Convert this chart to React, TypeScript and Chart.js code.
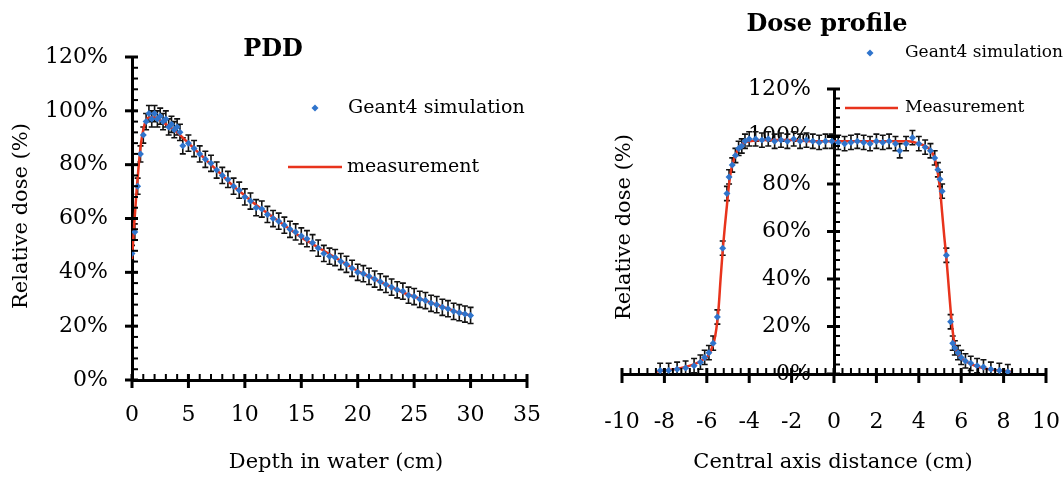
import React, { useEffect, useRef } from 'react';
import { Chart, registerables } from 'chart.js';

Chart.register(...registerables);

const FONT = 'DejaVu Serif';
Chart.defaults.font.family = FONT;
Chart.defaults.color = '#000';

const BLUE = '#2f74cc';
const RED = '#e8331c';

// ---------- PDD data ----------
const pddMeasDepth = [0, 0.2, 0.4, 0.6, 0.8, 1, 1.2, 1.5, 2, 2.5, 3, 3.5, 4, 4.5, 5, 6, 7, 8, 9, 10, 11, 12, 13, 14, 15, 16, 17, 18, 19, 20, 21, 22, 23, 24, 25, 26, 27, 28, 29, 30];
const pddMeasDose = [45, 58, 70, 80, 88, 93, 96, 97.5, 97.5, 96.5, 95, 93.5, 92, 90, 88, 84, 80, 76, 72, 68.5, 65, 62, 59, 56, 53, 50.5, 48, 45.5, 43, 40.5, 38.5, 36.5, 34.5, 32.5, 31, 29.5, 28, 26.5, 25, 24];

const pddSimDepth = [0, 0.25, 0.5, 0.75, 1, 1.25, 1.5, 1.75, 2, 2.25, 2.5, 2.75, 3, 3.25, 3.5, 3.75, 4, 4.25, 4.5,
  5, 5.5, 6, 6.5, 7, 7.5, 8, 8.5, 9, 9.5, 10, 10.5, 11, 11.5, 12, 12.5, 13, 13.5, 14, 14.5, 15, 15.5, 16, 16.5, 17, 17.5,
  18, 18.5, 19, 19.5, 20, 20.5, 21, 21.5, 22, 22.5, 23, 23.5, 24, 24.5, 25, 25.5, 26, 26.5, 27, 27.5, 28, 28.5, 29, 29.5, 30];
const pddSimDose = [47, 55, 72, 84, 91, 96, 99, 97, 99, 97, 98, 96, 97, 94, 95, 93, 94, 92, 87,
  88, 86, 84, 82, 80.5, 78, 76, 74.5, 72, 70.5, 68, 66.5, 64, 63.5, 61.5, 60, 59, 57.5, 56, 55, 53.5, 52.5, 51, 49, 47, 46,
  45.5, 44, 43, 41.5, 40, 39.5, 38.5, 37.5, 36.5, 35.5, 34.5, 33.5, 33, 31.5, 31, 30, 29.5, 28.5, 28, 27, 26.5, 25.5, 25, 24.5, 24];
const pddSimError = 3;

// ---------- Dose profile data ----------
const profMeasPos = [-8.4, -8, -7.5, -7, -6.5, -6.2, -6, -5.8, -5.65, -5.55, -5.45, -5.35, -5.25, -5.15, -5.05, -4.95, -4.85, -4.7, -4.5, -4.3,
  -4, -3, -2, -1, 0, 1, 2, 3, 3.5, 4, 4.4, 4.7, 4.85, 5, 5.1, 5.2, 5.3, 5.4, 5.5, 5.6, 5.7, 5.85, 6.1, 6.4, 6.8, 7.3, 7.8, 8.4];
const profMeasDose = [1, 1.5, 2, 3, 4.5, 6, 7, 10, 14, 19, 27, 40, 52, 62, 71, 80, 86, 91, 95, 97,
  98, 98.5, 98.5, 98, 98, 98, 98, 98, 98, 97, 95.5, 92, 87, 78, 68, 58, 49, 38, 27, 18, 12, 8.5, 6, 4.5, 3, 2, 1.5, 1];

const profSimPos = [-8.2, -7.8, -7.4, -7.0, -6.6, -6.3, -6.1, -5.9, -5.7, -5.5, -5.25, -5.05, -4.95, -4.8, -4.65, -4.5, -4.35, -4.2, -4.0,
  -3.7, -3.4, -3.1, -2.8, -2.5, -2.2, -1.9, -1.6, -1.3, -1.0, -0.7, -0.4, -0.1, 0.2, 0.5, 0.8, 1.1, 1.4, 1.7, 2.0, 2.3, 2.6, 2.9,
  3.1, 3.4, 3.7, 4.0, 4.3, 4.55, 4.75, 4.9, 5.0, 5.1, 5.3, 5.5, 5.6, 5.7, 5.85, 6.0, 6.2, 6.45, 6.75, 7.05, 7.4, 7.8, 8.2];
const profSimDose = [1.5, 1.5, 2, 2.5, 3.5, 5, 7, 9, 13, 24, 53, 76, 83, 88, 92, 95, 96, 98, 99,
  99, 98.5, 99, 98, 98.5, 98, 99, 98, 98.5, 98, 97.5, 98, 98, 97.5, 97, 97.5, 98, 97.5, 97, 98, 97.5, 98, 97,
  94, 97, 99.5, 97, 95.5, 94, 91, 86, 82, 77, 50, 22, 13, 11, 9, 7, 5.5, 4.5, 3.5, 3, 2, 1.5, 1];
const profSimError = 3;

const toPts = (xs: number[], ys: number[]) => xs.map((x, i) => ({ x, y: ys[i] }));

// ---------- plugins ----------
const crossTicks = {
  id: 'crossTicks',
  afterDraw(chart: any, _a: any, o: any) {
    const ctx = chart.ctx;
    const xs = chart.scales.x;
    const ys = chart.scales.y;
    const ay = ys.getPixelForValue(ys.min);
    const ax = xs.getPixelForValue(o.yCross);
    ctx.save();
    ctx.strokeStyle = '#000';
    const nx = Math.round((xs.max - xs.min) / o.xMinor);
    for (let i = 0; i <= nx; i++) {
      const v = xs.min + i * o.xMinor;
      const p = xs.getPixelForValue(v);
      const major = Math.abs(v / o.xMajor - Math.round(v / o.xMajor)) < 1e-6;
      ctx.beginPath();
      if (major) {
        ctx.lineWidth = 3;
        ctx.moveTo(p, ay - 6);
        ctx.lineTo(p, ay + o.majorBelow);
      } else {
        ctx.lineWidth = 2;
        ctx.moveTo(p, ay);
        ctx.lineTo(p, ay - 6);
      }
      ctx.stroke();
    }
    const ny = Math.round((ys.max - ys.min) / o.yMinor);
    for (let i = 0; i <= ny; i++) {
      const v = ys.min + i * o.yMinor;
      const p = ys.getPixelForValue(v);
      const major = Math.abs(v / o.yMajor - Math.round(v / o.yMajor)) < 1e-6;
      ctx.beginPath();
      if (major) {
        ctx.lineWidth = 3;
        ctx.moveTo(ax - 7, p);
        ctx.lineTo(ax + 6, p);
      } else {
        ctx.lineWidth = 2;
        ctx.moveTo(ax, p);
        ctx.lineTo(ax + 6, p);
      }
      ctx.stroke();
    }
    ctx.restore();
  },
};

const errorBars = {
  id: 'errorBars',
  beforeDatasetsDraw(chart: any) {
    const ctx = chart.ctx;
    const ys = chart.scales.y;
    const area = chart.chartArea;
    chart.data.datasets.forEach((ds: any, i: number) => {
      if (!ds.errorY) return;
      const meta = chart.getDatasetMeta(i);
      ctx.save();
      ctx.beginPath();
      ctx.rect(area.left, area.top, area.right - area.left, area.bottom - area.top);
      ctx.clip();
      ctx.strokeStyle = '#111';
      ctx.lineWidth = 1.6;
      const cap = 3;
      meta.data.forEach((pt: any, j: number) => {
        const v = ds.data[j].y;
        const t = ys.getPixelForValue(v + ds.errorY);
        const b = ys.getPixelForValue(v - ds.errorY);
        ctx.beginPath();
        ctx.moveTo(pt.x, t);
        ctx.lineTo(pt.x, b);
        ctx.moveTo(pt.x - cap, t);
        ctx.lineTo(pt.x + cap, t);
        ctx.moveTo(pt.x - cap, b);
        ctx.lineTo(pt.x + cap, b);
        ctx.stroke();
      });
      ctx.restore();
    });
  },
};

const annot = {
  id: 'annot',
  afterDraw(chart: any, _a: any, o: any) {
    const ctx = chart.ctx;
    ctx.save();
    ctx.fillStyle = '#000';
    ctx.textBaseline = 'middle';
    for (const t of o.texts) {
      ctx.font = `${t.bold ? 'bold ' : ''}${t.size}px "${FONT}"`;
      ctx.textAlign = 'center';
      if (t.rotate) {
        ctx.save();
        ctx.translate(t.x, t.y);
        ctx.rotate(-Math.PI / 2);
        ctx.fillText(t.text, 0, 0);
        ctx.restore();
      } else {
        ctx.fillText(t.text, t.x, t.y);
      }
    }
    for (const l of o.legend) {
      const ds = chart.data.datasets[l.dataset];
      if (l.kind === 'point') {
        ctx.fillStyle = BLUE;
        ctx.beginPath();
        ctx.moveTo(l.mx, l.y - 3.5);
        ctx.lineTo(l.mx + 3.5, l.y);
        ctx.lineTo(l.mx, l.y + 3.5);
        ctx.lineTo(l.mx - 3.5, l.y);
        ctx.closePath();
        ctx.fill();
      } else {
        ctx.strokeStyle = RED;
        ctx.lineWidth = 2.5;
        ctx.beginPath();
        ctx.moveTo(l.x1, l.y);
        ctx.lineTo(l.x2, l.y);
        ctx.stroke();
      }
      ctx.fillStyle = '#000';
      ctx.font = `${l.size}px "${FONT}"`;
      ctx.textAlign = 'left';
      ctx.fillText(ds.label, l.tx, l.y);
    }
    ctx.restore();
  },
};

const axisCommon = (size: number, pad: number) => ({
  ticks: { font: { size }, color: '#000', padding: pad, maxRotation: 0, autoSkip: false },
  grid: { display: false, drawTicks: false },
  border: { display: true, color: '#000', width: 3 },
});

const fixX = (h: number) => (s: any) => {
  s.height = h;
  s.paddingLeft = 0;
  s.paddingRight = 0;
};

function pddConfig(): any {
  const ax = axisCommon(22, 22);
  const ay = axisCommon(22, 24);
  return {
    type: 'scatter',
    data: {
      datasets: [
        {
          label: 'Geant4 simulation',
          data: toPts(pddSimDepth, pddSimDose),
          errorY: pddSimError,
          pointStyle: 'rectRot',
          pointRadius: 3.5,
          pointBorderWidth: 0,
          backgroundColor: BLUE,
          borderColor: BLUE,
          showLine: false,
        },
        {
          label: 'measurement',
          data: toPts(pddMeasDepth, pddMeasDose),
          showLine: true,
          pointRadius: 0,
          borderColor: RED,
          borderWidth: 2.5,
          cubicInterpolationMode: 'monotone',
        },
      ],
    },
    options: {
      animation: false,
      responsive: false,
      events: [],
      layout: { padding: { top: 57, right: 18, left: 0, bottom: 0 } },
      plugins: {
        legend: { display: false },
        tooltip: { enabled: false },
        crossTicks: { xMajor: 5, xMinor: 1, yMajor: 20, yMinor: 4, yCross: 0, majorBelow: 8 },
        annot: {
          texts: [
            { text: 'PDD', x: 273, y: 50, size: 24, bold: true },
            { text: 'Relative dose (%)', x: 22, y: 216, size: 21, rotate: true },
            { text: 'Depth in water (cm)', x: 336, y: 463, size: 21 },
          ],
          legend: [
            { dataset: 0, kind: 'point', mx: 315, y: 108, tx: 348, size: 19 },
            { dataset: 1, kind: 'line', x1: 288, x2: 342, y: 167, tx: 347, size: 19 },
          ],
        },
      },
      scales: {
        x: {
          type: 'linear', min: 0, max: 35,
          ...ax,
          ticks: { ...ax.ticks, stepSize: 5 },
          afterFit: fixX(101),
        },
        y: {
          type: 'linear', min: 0, max: 120,
          ...ay,
          ticks: { ...ay.ticks, stepSize: 20, callback: (v: any) => v + '%' },
          afterFit: (s: any) => { s.width = 132; },
        },
      },
    },
    plugins: [errorBars, crossTicks, annot],
  };
}

function profileConfig(): any {
  const ax = axisCommon(22, 35);
  const ay = axisCommon(22, 23);
  return {
    type: 'scatter',
    data: {
      datasets: [
        {
          label: 'Geant4 simulation',
          data: toPts(profSimPos, profSimDose),
          errorY: profSimError,
          pointStyle: 'rectRot',
          pointRadius: 3.5,
          pointBorderWidth: 0,
          backgroundColor: BLUE,
          borderColor: BLUE,
          showLine: false,
        },
        {
          label: 'Measurement',
          data: toPts(profMeasPos, profMeasDose),
          showLine: true,
          pointRadius: 0,
          borderColor: RED,
          borderWidth: 2.5,
          cubicInterpolationMode: 'monotone',
        },
      ],
    },
    options: {
      animation: false,
      responsive: false,
      events: [],
      layout: { padding: { top: 89, right: 17, left: 62, bottom: 0 } },
      plugins: {
        legend: { display: false },
        tooltip: { enabled: false },
        crossTicks: { xMajor: 2, xMinor: 0.4, yMajor: 20, yMinor: 4, yCross: 0, majorBelow: 9 },
        annot: {
          texts: [
            { text: 'Dose profile', x: 267, y: 25, size: 24, bold: true },
            { text: 'Relative dose (%)', x: 65, y: 227, size: 21, rotate: true },
            { text: 'Central axis distance (cm)', x: 273, y: 463, size: 21 },
          ],
          legend: [
            { dataset: 0, kind: 'point', mx: 310, y: 53, tx: 345, size: 17 },
            { dataset: 1, kind: 'line', x1: 285, x2: 338, y: 108, tx: 345, size: 17 },
          ],
        },
      },
      scales: {
        x: {
          type: 'linear', min: -10, max: 10,
          ...ax,
          ticks: { ...ax.ticks, stepSize: 2 },
          afterFit: fixX(107),
        },
        y: {
          type: 'linear', min: 0, max: 120, position: 'center',
          ...ay,
          ticks: { ...ay.ticks, stepSize: 20, callback: (v: any) => v + '%' },
        },
      },
    },
    plugins: [errorBars, crossTicks, annot],
  };
}

function ChartCanvas(props: { make: () => any; left: number; width: number; height: number }) {
  const ref = useRef<HTMLCanvasElement | null>(null);
  useEffect(() => {
    const chart = new Chart(ref.current as HTMLCanvasElement, props.make());
    return () => chart.destroy();
  }, []);
  return (
    <canvas
      ref={ref}
      width={props.width}
      height={props.height}
      style={{ position: 'absolute', left: props.left, top: 0, width: props.width, height: props.height, display: 'block' }}
    />
  );
}

export default function App() {
  return (
    <div style={{ position: 'absolute', left: 0, top: 0, width: 1063, height: 481, background: '#fff', overflow: 'hidden' }}>
      <ChartCanvas make={pddConfig} left={0} width={545} height={481} />
      <ChartCanvas make={profileConfig} left={560} width={503} height={481} />
    </div>
  );
}
